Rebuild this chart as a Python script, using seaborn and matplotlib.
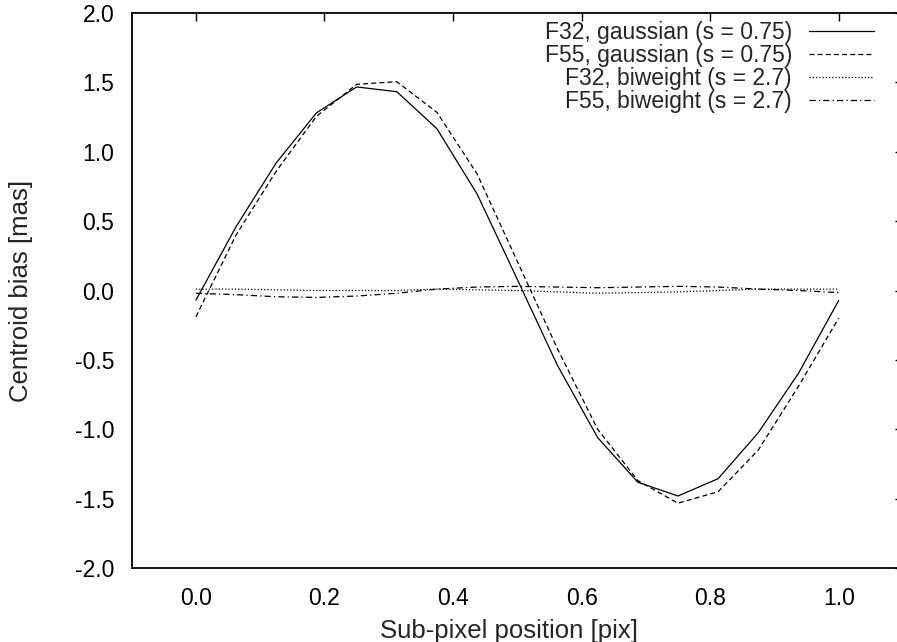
import numpy as np
import matplotlib
matplotlib.use("Agg")
import matplotlib.pyplot as plt
from matplotlib.ticker import FormatStrFormatter
import seaborn as sns

# sub-pixel positions (1/16 pix steps)
posicao = [0.0, 0.0625, 0.125, 0.1875, 0.25, 0.3125, 0.375, 0.4375, 0.5,
           0.5625, 0.625, 0.6875, 0.75, 0.8125, 0.875, 0.9375, 1.0]

f32_gauss = [-0.07, 0.46, 0.92, 1.28, 1.467, 1.433, 1.166, 0.695, 0.08,
             -0.54, -1.06, -1.382, -1.481, -1.356, -1.024, -0.596, -0.072]
f55_gauss = [-0.19, 0.40, 0.86, 1.255, 1.486, 1.505, 1.284, 0.84, 0.21,
             -0.42, -1.0, -1.37, -1.533, -1.45, -1.149, -0.69, -0.199]
f32_biw = [0.01, 0.01, 0.005, 0.0, 0.0, 0.0, 0.01, 0.005, 0.0,
           -0.01, -0.02, -0.015, -0.01, 0.0, 0.01, 0.01, 0.01]
f55_biw = [-0.02, -0.03, -0.045, -0.05, -0.04, -0.02, 0.01, 0.025, 0.03,
           0.025, 0.02, 0.025, 0.03, 0.025, 0.01, 0.0, -0.015]

rotulos = ["F32, gaussian (s = 0.75)", "F55, gaussian (s = 0.75)",
           "F32, biweight (s = 2.7)", "F55, biweight (s = 2.7)"]
estilos = ["-", (0, (4, 2.5)), (0, (1, 1.6)), (0, (5, 2.5, 1, 2.5))]

sns.set_style("white")
plt.rcParams['font.family'] = ['Liberation Sans', 'DejaVu Sans']
plt.rcParams['axes.unicode_minus'] = False

fig = plt.figure(figsize=(8.97, 6.42), dpi=100)
ax = fig.add_axes([131.6 / 897, 74 / 642, 771.4 / 897, 555 / 642])

series = [f32_gauss, f55_gauss, f32_biw, f55_biw]
for y, lab, ls in zip(series, rotulos, estilos):
    sns.lineplot(x=posicao, y=y, ax=ax, color='black', lw=0.9,
                 linestyle=ls, label=lab)

ax.set_xlim(-0.1, 1.1)
ax.set_ylim(-2.0, 2.0)
ax.set_xticks([0.0, 0.2, 0.4, 0.6, 0.8, 1.0])
ax.set_yticks(np.arange(-2.0, 2.01, 0.5))
ax.xaxis.set_major_formatter(FormatStrFormatter('%.1f'))
ax.yaxis.set_major_formatter(FormatStrFormatter('%.1f'))

for s in ax.spines.values():
    s.set_visible(True)
    s.set_color('black')
    s.set_linewidth(1.3)

ax.tick_params(axis='both', direction='in', length=5.8, width=1.0,
               colors='black', labelsize=16.5, top=True, right=True)
ax.tick_params(axis='x', pad=13.5)
ax.tick_params(axis='y', pad=12.5)

ax.set_xlabel("Sub-pixel position [pix]", fontsize=18.5)
ax.set_ylabel("Centroid bias [mas]", fontsize=18.5)
ax.xaxis.set_label_coords(0.489, -0.092)
ax.yaxis.set_label_coords(-0.128, 0.5)

ax.legend(loc='upper right', bbox_to_anchor=(874 / 897, 1 - 21 / 642),
          bbox_transform=fig.transFigure, frameon=False, markerfirst=False,
          fontsize=16.5, handlelength=2.84, handletextpad=0.74,
          labelspacing=0.0, borderpad=0, borderaxespad=0)

fig.savefig("out.png", dpi=100)
